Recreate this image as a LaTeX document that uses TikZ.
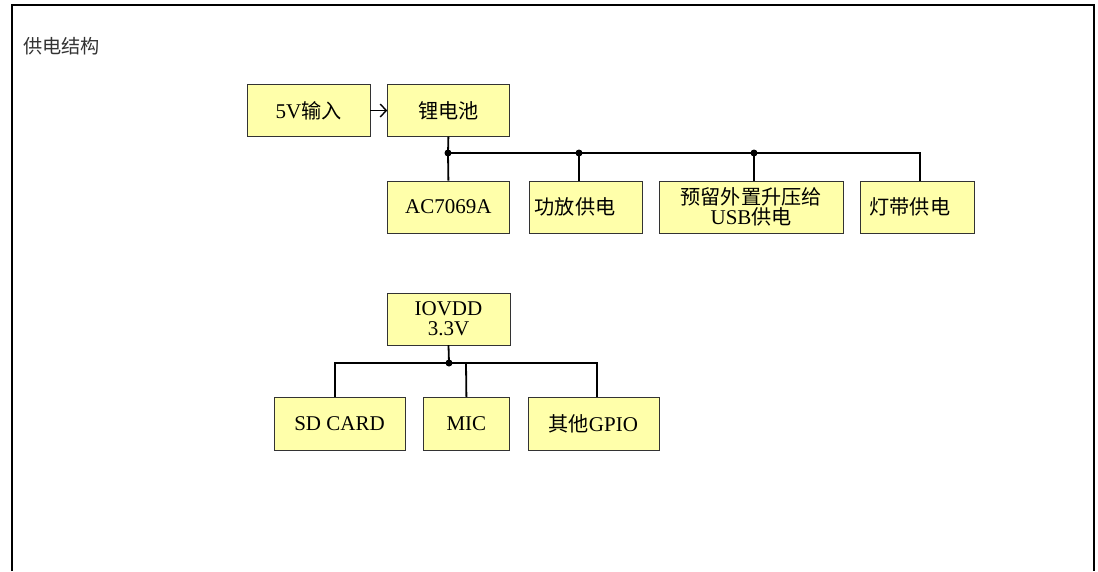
\documentclass[tikz,border=0pt]{standalone}
\usepackage{fontspec}
\setmainfont{Liberation Serif}
\newfontfamily\cjk[Scale=0.96]{Noto Sans CJK SC}
\usetikzlibrary{arrows.meta,positioning}
\usepackage{xcolor}
\definecolor{boxyellow}{RGB}{255,255,170}
\newcommand{\zh}[1]{{\cjk #1}}

\begin{document}
\begin{tikzpicture}[x=1pt, y=-1pt,
    box/.style={rectangle, draw=black!80, fill=boxyellow, minimum height=52pt, inner sep=0pt, align=center, font=\fontsize{21}{20}\selectfont},
    wire/.style={line width=1.8pt}]
    \useasboundingbox (0,0) rectangle (1098,571);
    % frame, open at the bottom
    \draw[line width=2pt] (11.5,571) -- (11.5,5) -- (1094,5) -- (1094,571);
    \node [font=\fontsize{20}{20}\selectfont, text=black!80] (title) at (61.5,46) {\zh{供电结构}};
    % battery branch
    \node [box, minimum width=123pt] (input) at (308.5,110.5) {5V\zh{输入}};
    \node [box, minimum width=122pt, right=17pt of input] (batt) {\zh{锂电池}};
    \node [box, minimum width=122pt, below=44pt of batt] (ac) {AC7069A};
    \node [box, text width=101pt, inner xsep=6pt, align=left, right=19pt of ac] (amp) {\zh{功放供电}};
    \node [box, minimum width=184pt, right=17pt of amp] (usb) {\zh{预留外置升压给}\\USB\zh{供电}};
    \node [box, text width=96pt, inner xsep=9pt, align=left, right=17pt of usb] (led) {\zh{灯带供电}};
    \coordinate (j1) at (448,153);
    \coordinate (j2) at (579,153);
    \coordinate (j3) at (754,153);
    \coordinate (j4) at (920,153);
    \draw[-{Straight Barb[length=6pt,width=13pt]}, line width=1.4pt] (input) -- (batt);
    \draw[wire] (batt.south) -- (j1) -- (ac.north);
    \draw[wire] (j1) -- (j4) -- (j4 |- led.north);
    \draw[wire] (j2) -- (j2 |- amp.north);
    \draw[wire] (j3) -- (j3 |- usb.north);
    \foreach \j in {j1,j2,j3}
        \fill (\j) circle (3.5pt);
    % IO branch
    \node [box, minimum width=123pt] (io) at (448.5,319) {IOVDD\\3.3V};
    \node [box, minimum width=131pt, minimum height=53pt] (sd) at (339.5,423.5) {SD CARD};
    \node [box, minimum width=86pt, minimum height=53pt, right=18pt of sd] (mic) {MIC};
    \node [box, minimum width=131pt, minimum height=53pt, right=18pt of mic] (gpio) {\zh{其他}GPIO};
    \coordinate (k0) at (449,363);
    \coordinate (kl) at (335,363);
    \coordinate (km) at (466,363);
    \coordinate (kr) at (597,363);
    \draw[wire] (io.south) -- (k0);
    \draw[wire] (kl |- sd.north) -- (kl) -- (kr) -- (kr |- gpio.north);
    \draw[wire] (km) -- (mic.north);
    \fill (k0) circle (3.5pt);
\end{tikzpicture}
\end{document}
